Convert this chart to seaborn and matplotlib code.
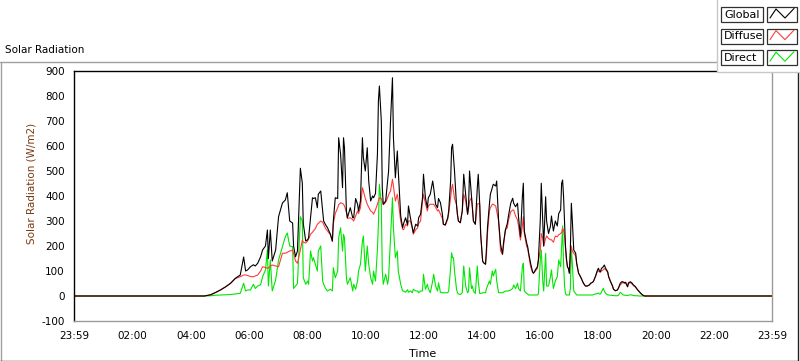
import numpy as np
import pandas as pd
import matplotlib
matplotlib.use("Agg")
import matplotlib.pyplot as plt
import seaborn as sns
from matplotlib.lines import Line2D
from matplotlib.patches import Rectangle

# ---------------- data ----------------
time_min = [-1, 268, 281, 291, 301, 312, 322, 332, 342, 349, 353, 357, 363, 369, 373, 378, 384, 388, 394, 398,
            400, 404, 408, 415, 421, 429, 435, 439, 444, 450, 452, 456, 460, 466, 470, 472, 477, 481, 483, 487,
            491, 493, 497, 501, 503, 508, 512, 514, 518, 522, 528, 532, 534, 538, 543, 545, 549, 553, 555, 557,
            561, 563, 569, 574, 576, 580, 584, 586, 590, 594, 596, 600, 604, 607, 611, 615, 617, 621, 625, 627,
            629, 633, 635, 637, 642, 646, 648, 652, 656, 658, 662, 666, 668, 673, 677, 679, 683, 687, 689, 693,
            697, 699, 704, 708, 710, 714, 718, 720, 724, 728, 730, 734, 739, 741, 745, 749, 751, 755, 759, 761,
            765, 770, 772, 776, 778, 780, 782, 784, 788, 790, 792, 796, 800, 803, 807, 811, 813, 815, 819, 821,
            823, 827, 831, 833, 836, 838, 842, 844, 848, 850, 852, 856, 858, 862, 864, 869, 871, 875, 879, 883,
            885, 889, 893, 895, 900, 904, 906, 910, 914, 916, 920, 924, 926, 928, 933, 935, 937, 941, 945, 947,
            951, 955, 957, 961, 963, 966, 968, 972, 974, 978, 982, 984, 988, 992, 996, 999, 1003, 1005, 1007, 1009,
            1011, 1013, 1015, 1017, 1019, 1021, 1023, 1025, 1027, 1030, 1034, 1036, 1040, 1044, 1048, 1050, 1054, 1058, 1062, 1065,
            1069, 1071, 1075, 1079, 1081, 1083, 1085, 1087, 1091, 1093, 1096, 1100, 1102, 1106, 1110, 1112, 1116, 1120, 1122, 1126,
            1129, 1131, 1135, 1137, 1141, 1143, 1147, 1151, 1153, 1157, 1162, 1164, 1168, 1172, 1176, 1439]

global_rad = [0, 0, 5, 14, 24, 37, 51, 71, 84, 156, 100, 104, 117, 125, 120, 131, 157, 184, 200, 264,
              150, 264, 140, 184, 317, 372, 384, 413, 300, 292, 200, 157, 180, 511, 452, 290, 220, 225, 233, 313,
              393, 390, 393, 353, 407, 420, 340, 300, 285, 273, 247, 220, 300, 393, 390, 633, 567, 433, 633, 593,
              340, 313, 353, 313, 313, 390, 367, 340, 380, 633, 553, 500, 593, 460, 380, 400, 393, 410, 567, 780,
              840, 700, 433, 367, 380, 460, 500, 700, 873, 633, 473, 580, 500, 320, 273, 290, 313, 285, 360, 313,
              273, 253, 287, 280, 313, 327, 393, 487, 393, 353, 393, 407, 460, 433, 367, 353, 390, 373, 327, 287,
              285, 313, 340, 460, 593, 607, 553, 500, 367, 327, 300, 293, 340, 487, 407, 327, 360, 500, 400, 353,
              300, 287, 433, 487, 367, 247, 140, 133, 127, 193, 273, 367, 407, 433, 447, 440, 460, 300, 207, 167,
              211, 264, 291, 317, 371, 391, 371, 357, 371, 317, 237, 397, 451, 260, 211, 197, 171, 131, 97, 91,
              105, 117, 144, 304, 451, 300, 200, 397, 300, 250, 280, 320, 260, 300, 280, 330, 344, 451, 464, 397,
              300, 197, 150, 117, 110, 91, 184, 371, 304, 184, 171, 131, 91, 77, 60, 51, 40, 40, 44, 51,
              55, 60, 80, 104, 111, 100, 97, 110, 117, 124, 110, 97, 77, 57, 40, 27, 21, 24, 31, 51,
              57, 57, 53, 55, 37, 53, 57, 50, 44, 38, 24, 20, 11, 4, 0, 0]

diffuse_rad = [0, 0, 5, 14, 24, 37, 51, 70, 77, 84, 84, 82, 78, 77, 80, 84, 100, 117, 114, 111,
               112, 120, 124, 120, 117, 171, 171, 175, 180, 184, 170, 140, 131, 184, 224, 215, 212, 220, 228, 247,
               255, 260, 270, 287, 290, 300, 295, 287, 270, 260, 245, 218, 290, 330, 353, 365, 373, 370, 367, 360,
               335, 310, 313, 305, 300, 320, 340, 330, 353, 433, 420, 390, 367, 355, 340, 335, 327, 345, 367, 380,
               393, 390, 380, 365, 375, 393, 405, 420, 467, 440, 380, 407, 380, 300, 267, 265, 287, 280, 300, 300,
               270, 247, 265, 273, 290, 300, 380, 407, 370, 340, 360, 367, 367, 367, 355, 340, 345, 327, 310, 287,
               282, 307, 330, 393, 430, 447, 420, 390, 367, 327, 300, 293, 340, 407, 380, 327, 350, 380, 393, 353,
               300, 287, 367, 370, 367, 247, 140, 133, 127, 167, 250, 340, 353, 367, 367, 360, 340, 300, 180, 167,
               197, 264, 273, 300, 337, 344, 344, 320, 304, 280, 224, 280, 317, 250, 197, 190, 165, 117, 95, 91,
               100, 111, 140, 184, 250, 230, 200, 230, 240, 230, 225, 225, 215, 240, 237, 245, 250, 255, 270, 264,
               240, 190, 140, 117, 110, 91, 170, 200, 180, 171, 160, 131, 91, 77, 60, 51, 40, 40, 44, 51,
               55, 60, 78, 100, 100, 96, 95, 100, 105, 110, 105, 95, 77, 57, 40, 27, 21, 24, 31, 45,
               50, 55, 50, 52, 37, 50, 53, 47, 42, 36, 24, 20, 11, 4, 0, 0]

direct_rad = [0, 0, 1, 3, 4, 5, 6, 8, 11, 51, 20, 24, 24, 47, 30, 40, 45, 77, 104, 184,
              40, 144, 20, 64, 144, 197, 237, 252, 200, 197, 30, 40, 50, 317, 300, 73, 47, 60, 47, 180,
              140, 153, 127, 100, 180, 200, 60, 47, 30, 20, 27, 20, 113, 73, 100, 233, 273, 180, 247, 233,
              73, 47, 73, 20, 47, 27, 60, 100, 127, 220, 240, 100, 200, 127, 73, 47, 100, 60, 187, 287,
              447, 367, 100, 47, 87, 47, 73, 233, 393, 273, 153, 180, 100, 47, 20, 20, 15, 25, 15, 20,
              13, 27, 20, 20, 13, 20, 20, 87, 27, 47, 30, 13, 60, 87, 40, 20, 53, 15, 13, 13,
              13, 13, 20, 113, 173, 153, 153, 100, 30, 13, 8, 6, 13, 120, 40, 13, 20, 113, 30, 40,
              20, 10, 120, 60, 10, 10, 13, 13, 13, 30, 40, 60, 47, 100, 80, 107, 60, 13, 13, 13,
              15, 20, 20, 20, 24, 30, 44, 30, 51, 30, 20, 117, 131, 20, 10, 8, 4, 4, 4, 4,
              4, 4, 8, 144, 184, 60, 20, 171, 40, 40, 77, 104, 30, 60, 77, 144, 117, 197, 280, 130,
              40, 10, 4, 4, 4, 4, 30, 197, 130, 20, 10, 4, 4, 4, 4, 4, 4, 4, 4, 4,
              4, 6, 8, 10, 12, 8, 8, 15, 31, 20, 10, 5, 4, 3, 2, 2, 1, 1, 2, 15,
              10, 5, 3, 3, 2, 3, 5, 3, 2, 1, 1, 0, 0, 0, 0, 0]

series_names = ["Global", "Diffuse", "Direct"]
series_colors = {"Global": "#000000", "Diffuse": "#ff3c3c", "Direct": "#00e600"}
x_tick_hours = [-1 / 60, 2, 4, 6, 8, 10, 12, 14, 16, 18, 20, 22, 1439 / 60]
x_tick_labels = ["23:59", "02:00", "04:00", "06:00", "08:00", "10:00", "12:00",
                 "14:00", "16:00", "18:00", "20:00", "22:00", "23:59"]
y_ticks = [-100, 0, 100, 200, 300, 400, 500, 600, 700, 800, 900]

# ---------------- figure ----------------
sns.set_theme(style="white")
plt.rcParams["font.family"] = ["DejaVu Sans"]

W, H = 800, 361
fig = plt.figure(figsize=(W / 100, H / 100), dpi=100, facecolor="white")


def fx(px):
    return px / W


def fy(py):
    return 1 - py / H


ax = fig.add_axes([fx(74), fy(321), fx(772) - fx(74), fy(71) - fy(321)])
ax.set_facecolor("white")

df = pd.DataFrame({"Hour": np.array(time_min) / 60.0,
                   "Global": global_rad, "Diffuse": diffuse_rad, "Direct": direct_rad})
long = df.melt(id_vars="Hour", var_name="Series", value_name="Value")

sns.lineplot(data=long, x="Hour", y="Value", hue="Series",
             hue_order=["Direct", "Diffuse", "Global"], palette=series_colors,
             estimator=None, sort=False, linewidth=0.8, legend=False, ax=ax)

ax.set_xlim(-1 / 60, 1439 / 60)
ax.set_ylim(-100, 900)
ax.set_xticks(x_tick_hours)
ax.set_xticklabels(x_tick_labels)
ax.set_xticks(np.arange(0.25, 24, 0.25), minor=True)
ax.set_yticks(y_ticks)
ax.set_yticklabels([str(v) for v in y_ticks])
ax.set_xlabel("")
ax.set_ylabel("")
ax.grid(False)

ax.tick_params(axis="both", which="major", direction="out", length=4.5, width=0.8,
               color="black", labelsize=7.5, labelcolor="black", pad=2.2)
ax.tick_params(axis="x", which="minor", direction="out", length=2.5, width=0.8, color="black")
ax.tick_params(axis="x", which="major", pad=3)

for side in ["top", "left"]:
    ax.spines[side].set_color("black")
    ax.spines[side].set_linewidth(1.0)
for side in ["right", "bottom"]:
    ax.spines[side].set_color("#9a9a9a")
    ax.spines[side].set_linewidth(1.0)

# axis names
fig.text(fx(31), fy(183), "Solar Radiation (W/m2)", rotation=90, ha="center", va="center",
         fontsize=7.5, color="#7a3a12")
fig.text(fx(423), fy(354), "Time", ha="center", va="center", fontsize=8, color="black")
fig.text(fx(5), fy(50), "Solar Radiation", ha="left", va="center", fontsize=7.5, color="black")

# outer frame
frame_kw = dict(transform=fig.transFigure, linewidth=1.0, zorder=4)
fig.add_artist(Line2D([fx(0), fx(717)], [fy(62), fy(62)], color="#a0a0a0", **frame_kw))
fig.add_artist(Line2D([fx(0.5), fx(0.5)], [fy(62), fy(361)], color="#a0a0a0", **frame_kw))
fig.add_artist(Line2D([fx(0), fx(798)], [fy(360.5), fy(360.5)], color="#202020", **frame_kw))
fig.add_artist(Line2D([fx(797.5), fx(797.5)], [fy(72), fy(361)], color="#202020", **frame_kw))

# legend panel (LabVIEW plot legend)
fig.add_artist(Rectangle((fx(717), fy(72)), fx(800) - fx(717), fy(0) - fy(72),
                         transform=fig.transFigure, facecolor="white", edgecolor="none", zorder=5))
fig.add_artist(Line2D([fx(717), fx(717)], [fy(0), fy(72)], color="#c8c8c8",
                      transform=fig.transFigure, linewidth=1.0, zorder=6))
fig.add_artist(Line2D([fx(717), fx(800)], [fy(72), fy(72)], color="#c8c8c8",
                      transform=fig.transFigure, linewidth=1.0, zorder=6))

for i, name in enumerate(series_names):
    top = 7 + 21.6 * i
    bot = top + 15
    fig.add_artist(Rectangle((fx(721), fy(bot)), fx(763) - fx(721), fy(top) - fy(bot),
                             transform=fig.transFigure, facecolor="white", edgecolor="#303030",
                             linewidth=0.9, zorder=6))
    fig.text(fx(724), fy((top + bot) / 2), name, ha="left", va="center", fontsize=8,
             color="black", zorder=7)
    fig.add_artist(Rectangle((fx(767), fy(bot)), fx(797) - fx(767), fy(top) - fy(bot),
                             transform=fig.transFigure, facecolor="white", edgecolor="#303030",
                             linewidth=0.9, zorder=6))
    zx = [770, 776, 785, 794]
    zy = [top + 11, top + 2, top + 11, top + 1.5]
    fig.add_artist(Line2D([fx(v) for v in zx], [fy(v) for v in zy], color=series_colors[name],
                          transform=fig.transFigure, linewidth=0.8, zorder=7))

fig.savefig("out.png", dpi=100, facecolor="white")
